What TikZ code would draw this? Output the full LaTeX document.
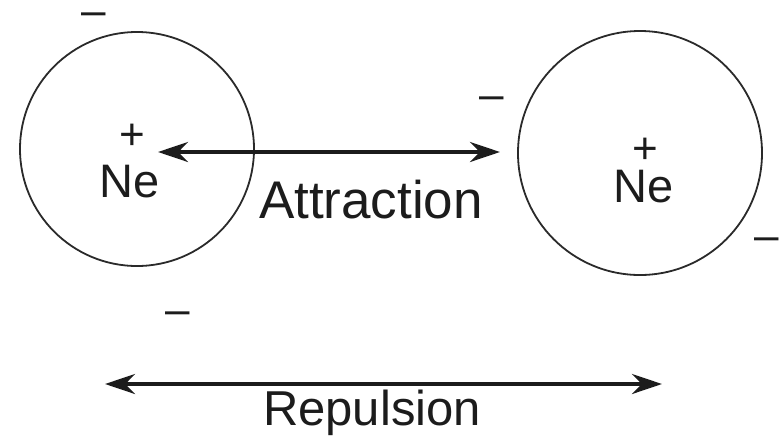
\documentclass[tikz,border=0pt]{standalone}
\usepackage{fontspec}
\setmainfont{Liberation Sans}
\usetikzlibrary{arrows.meta}
\definecolor{ink}{HTML}{1C1C1C}
\definecolor{shell}{HTML}{2A2A2A}
\tikzset{
  % ---- atoms ------------------------------------------------------
  atom/.style       = {circle, draw=shell, line width=1.8pt, fill=none,
                       inner sep=0pt},
  elem/.style       = {anchor=base, inner sep=0pt, text=ink,
                       text height=0.72em, text depth=0pt,
                       font=\fontsize{47}{52}\selectfont},
  chargetag/.style  = {anchor=base, inner sep=0pt, text=ink,
                       text height=0.6em, text depth=0pt,
                       font=\fontsize{44}{48}\selectfont},
  electron/.style   = {chargetag, text height=0.35em},
  % ---- forces -----------------------------------------------------
  force/.style      = {draw=ink, line width=4.2pt,
                       {Stealth[length=30pt,width=20pt]}-{Stealth[length=30pt,width=20pt]}},
  forcename/.style  = {anchor=base, inner sep=0pt, text=ink},
}
\begin{document}
\begin{tikzpicture}[x=1pt,y=-1pt]
  \useasboundingbox (0,0) rectangle (779,440);
  % atoms
  \node[atom, minimum size=234pt] (shellA) at (137,149) {};
  \node[atom, minimum size=244pt] (shellB) at (640,153) {};
  \node[elem] (neA) at (130,197) {Ne};
  \node[elem] (neB) at (644,202) {Ne};
  \node[chargetag] (plusA) at (132,149) {+};
  \node[chargetag] (plusB) at (645,163) {+};
  % electrons
  \node[electron] (minusA) at (94,25) {–};
  \node[electron] (minusB) at (492,109) {–};
  \node[electron] (minusC) at (178,324) {–};
  \node[electron] (minusD) at (767,250) {–};
  % attraction
  \coordinate (attrL) at (158,152);
  \coordinate (attrR) at (500,152);
  \draw[force] (attrL) -- (attrR);
  \node[forcename, font=\fontsize{53}{60}\selectfont] (attrTag) at (371,218) {Attraction};
  % repulsion
  \coordinate (repL) at (105,384);
  \coordinate (repR) at (662,384);
  \draw[force] (repL) -- (repR);
  \node[forcename, font=\fontsize{49}{56}\selectfont] (repTag) at (372,425) {Repulsion};
\end{tikzpicture}
\end{document}
